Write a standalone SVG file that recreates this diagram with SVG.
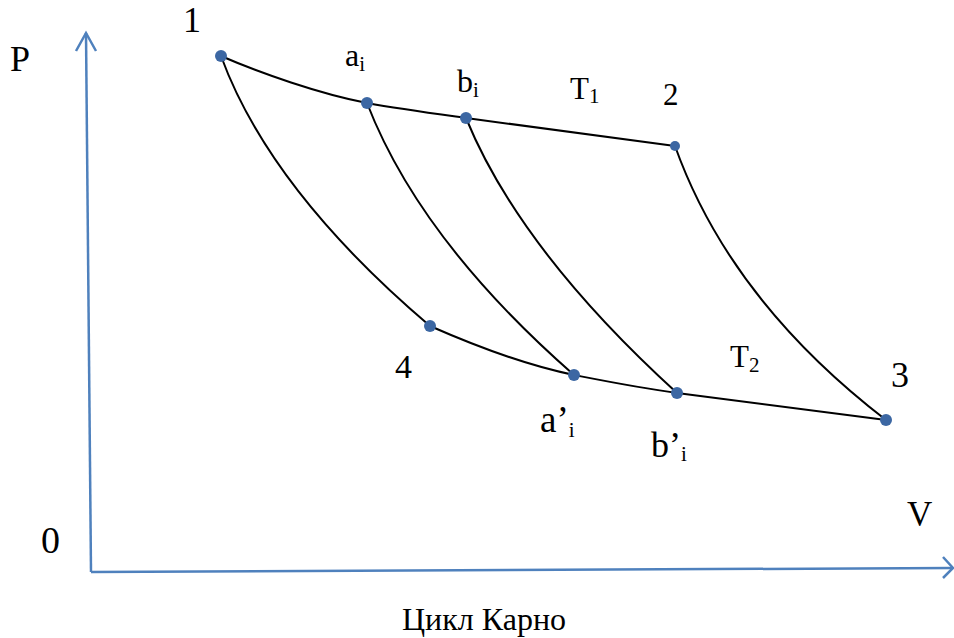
<svg xmlns="http://www.w3.org/2000/svg" width="954" height="638" viewBox="0 0 954 638" font-family="'Liberation Serif', 'DejaVu Serif', serif">
<style>
text{font-family:'Liberation Serif','DejaVu Serif',serif;fill:#000;font-size:32px}
.sub{font-size:21px}
.axis{stroke:#4f81bd;stroke-width:2.5;fill:none}
.curve{stroke:#000;stroke-width:2;fill:none}
.dot{fill:#3c67a3}
</style>
<rect width="954" height="638" fill="#fff"/>
<g id="axes">
<path class="axis" d="M91,572 L86,33"/>
<path class="axis" d="M76,51 L86,33 L96,51"/>
<path class="axis" d="M91,572 L952,568"/>
<path class="axis" d="M943,557 L953,568 L943,578"/>
</g>
<g id="connectors">
<path class="curve" d="M221,56 C260,73 320,94 367,103 C400,109 430,113 466,118 C540,128 610,137 675,146"/>
<path class="curve" d="M430,326 C480,348 530,366 574,375 C610,382 640,388 677,393 C750,403 820,412 886,420"/>
<path class="curve" d="M221,56 Q270,190 430,326"/>
<path class="curve" d="M367,103 Q420,240 574,375"/>
<path class="curve" d="M466,118 Q520,250 677,393"/>
<path class="curve" d="M675,146 Q730,300 886,420"/>
</g>
<g id="node-1"><circle class="dot" cx="221" cy="56" r="6"/><text x="183" y="32" style="font-size:36px">1</text></g>
<g id="node-ai"><circle class="dot" cx="367" cy="103" r="6"/><text x="345" y="66" style="font-size:32px">a<tspan class="sub" dy="5" style="font-size:21px">i</tspan></text></g>
<g id="node-bi"><circle class="dot" cx="466" cy="118" r="6"/><text x="457" y="92" style="font-size:32px">b<tspan class="sub" dy="5" style="font-size:21px">i</tspan></text></g>
<g id="node-2"><circle class="dot" cx="675" cy="146" r="5"/><text x="663" y="105" style="font-size:31px">2</text></g>
<g id="node-4"><circle class="dot" cx="430" cy="326" r="6"/><text x="395" y="378" style="font-size:34px">4</text></g>
<g id="node-ai2"><circle class="dot" cx="574" cy="375" r="6"/><text x="540" y="432" style="font-size:37px">a’<tspan class="sub" dy="5" style="font-size:21px">i</tspan></text></g>
<g id="node-bi2"><circle class="dot" cx="677" cy="393" r="6"/><text x="651" y="457" style="font-size:36px">b’<tspan class="sub" dy="4" style="font-size:21px">i</tspan></text></g>
<g id="node-3"><circle class="dot" cx="886" cy="420" r="6"/><text x="891" y="387" style="font-size:36px">3</text></g>
<g id="labels">
<text x="10" y="71" style="font-size:36px">P</text>
<text x="570" y="99" style="font-size:31px">T<tspan class="sub" dy="4">1</tspan></text>
<text x="730" y="367" style="font-size:31px">T<tspan class="sub" dy="5">2</tspan></text>
<text x="907" y="526" style="font-size:35px">V</text>
<text x="41" y="553" style="font-size:38px">0</text>
<text x="484" y="630" style="font-size:32px" text-anchor="middle">Цикл Карно</text>
</g>
</svg>
